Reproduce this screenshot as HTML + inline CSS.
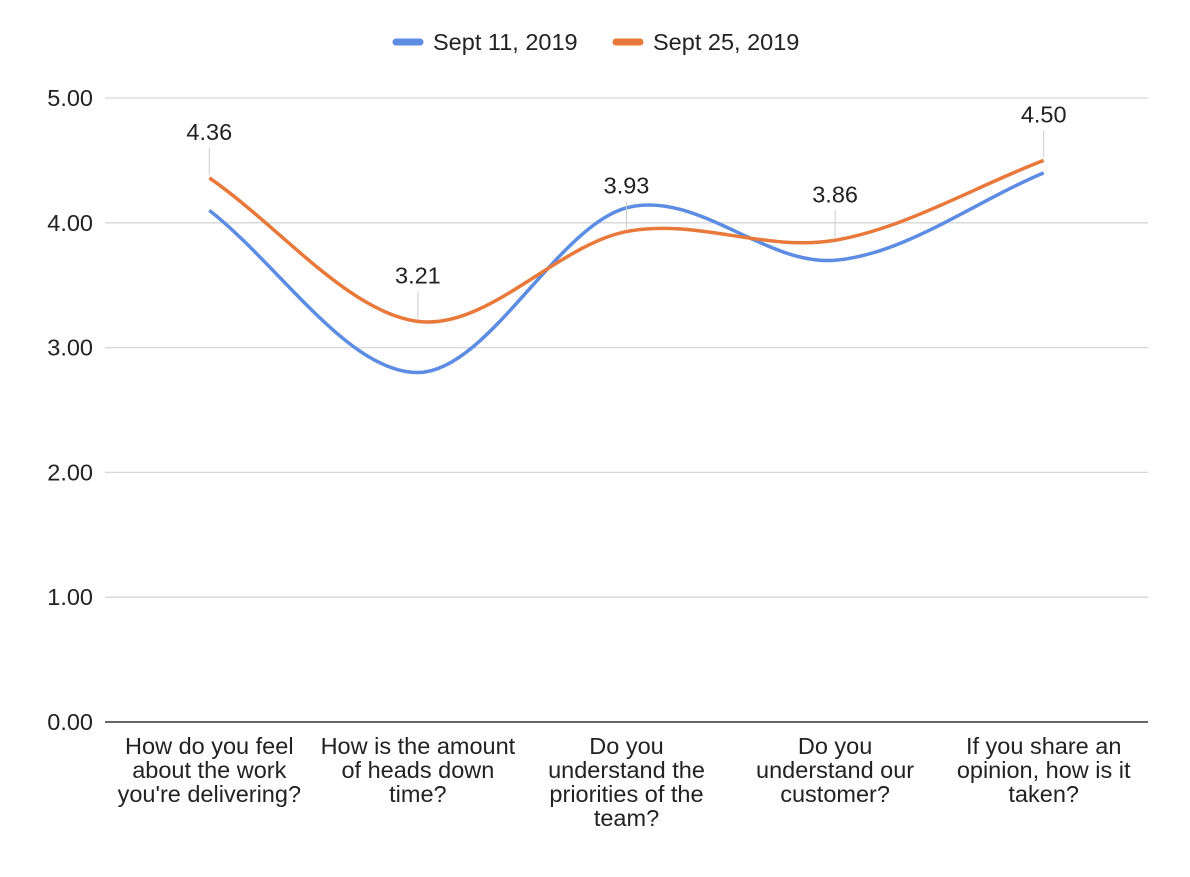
<!DOCTYPE html>
<html><head><meta charset="utf-8">
<style>
body{margin:0;background:#fff;}
svg{display:block;font-family:"Liberation Sans",Arial,sans-serif;}
</style></head>
<body>
<svg id="chart" width="1190" height="877" viewBox="0 0 1190 877" xmlns="http://www.w3.org/2000/svg">
<g id="legend">
  <g>
    <line x1="396" y1="42" x2="420" y2="42" stroke="#5c8de3" stroke-width="7" stroke-linecap="round"/>
    <text x="433" y="50" font-size="23.5" fill="#222">Sept 11, 2019</text>
  </g>
  <g>
    <line x1="616" y1="42" x2="640" y2="42" stroke="#e8793a" stroke-width="7" stroke-linecap="round"/>
    <text x="653" y="50" font-size="23.5" fill="#222">Sept 25, 2019</text>
  </g>
</g>
<g id="grid"></g>
<g id="yaxis"></g>
<g id="xaxis"></g>
<g id="series"></g>
<g id="annos"></g>
</svg>
<script>
const categories = [
  ["How do you feel","about the work","you're delivering?"],
  ["How is the amount","of heads down","time?"],
  ["Do you","understand the","priorities of the","team?"],
  ["Do you","understand our","customer?"],
  ["If you share an","opinion, how is it","taken?"]
];
const sept11 = [4.10, 2.80, 4.12, 3.70, 4.40];
const sept25 = [4.36, 3.21, 3.93, 3.86, 4.50];
const yTicks = [0, 1, 2, 3, 4, 5];

const NS = "http://www.w3.org/2000/svg";
const plotLeft = 105, plotRight = 1148, plotTop = 98, plotBottom = 722, yMax = 5;
const FS = 23.5;
const band = (plotRight - plotLeft) / categories.length;
function xPos(i){ return plotLeft + band * (i + 0.5); }
function yPos(v){ return plotBottom - (v / yMax) * (plotBottom - plotTop); }
function mk(tag, attrs, parent){
  const e = document.createElementNS(NS, tag);
  for (const k in attrs) e.setAttribute(k, attrs[k]);
  parent.appendChild(e); return e;
}
const grid = document.getElementById('grid');
const yaxis = document.getElementById('yaxis');
yTicks.forEach(t => {
  const y = yPos(t);
  const l = mk('line', {x1:plotLeft, x2:plotRight, y1:y, y2:y, stroke: t===0 ? '#333' : '#d6d6d6', 'stroke-width': t===0 ? 1.5 : 1.3}, grid);
  
  
  const tx = mk('text', {x: 93, y: y + 8, 'text-anchor':'end', 'font-size': FS, fill:'#222'}, yaxis);
  tx.textContent = t.toFixed(2);
  
  
});
const xaxis = document.getElementById('xaxis');
categories.forEach((lines, i) => {
  const t = mk('text', {x: xPos(i), y: 754, 'text-anchor':'middle', 'font-size': FS, fill:'#222'}, xaxis);
  
  
  lines.forEach((s, j) => {
    const ts = mk('tspan', {x: xPos(i), dy: j===0 ? 0 : 24}, t);
    ts.textContent = s;
  });
});
function smoothPath(vals){
  const p = vals.map((v,i)=>[xPos(i), yPos(v)]);
  const n = p.length;
  const tan = p.map((_,i)=>{
    const a = p[Math.max(i-1,0)], b = p[Math.min(i+1,n-1)];
    const span = Math.min(i+1,n-1) - Math.max(i-1,0);
    return [(b[0]-a[0])/span, (b[1]-a[1])/span];
  });
  let d = `M${p[0][0]},${p[0][1]}`;
  for (let i=0;i<n-1;i++){
    const c1 = [p[i][0]+tan[i][0]/3, p[i][1]+tan[i][1]/3];
    const c2 = [p[i+1][0]-tan[i+1][0]/3, p[i+1][1]-tan[i+1][1]/3];
    d += ` C${c1[0]},${c1[1]} ${c2[0]},${c2[1]} ${p[i+1][0]},${p[i+1][1]}`;
  }
  return d;
}
const series = document.getElementById('series');
const s1 = mk('path', {d: smoothPath(sept11), fill:'none', stroke:'#5c8de3', 'stroke-width':3.5}, series);


const s2 = mk('path', {d: smoothPath(sept25), fill:'none', stroke:'#e8793a', 'stroke-width':3.5}, series);


const annos = document.getElementById('annos');
sept25.forEach((v,i)=>{
  const x = xPos(i), y = yPos(v);
  const l = mk('line', {x1:x, x2:x, y1:y-3, y2:y-30, stroke:'#ccc', 'stroke-width':1}, annos);
  
  
  const t = mk('text', {x:x, y:y-38, 'text-anchor':'middle', 'font-size':FS, fill:'#222'}, annos);
  t.textContent = v.toFixed(2);
  
  
});
</script>
</body></html>
